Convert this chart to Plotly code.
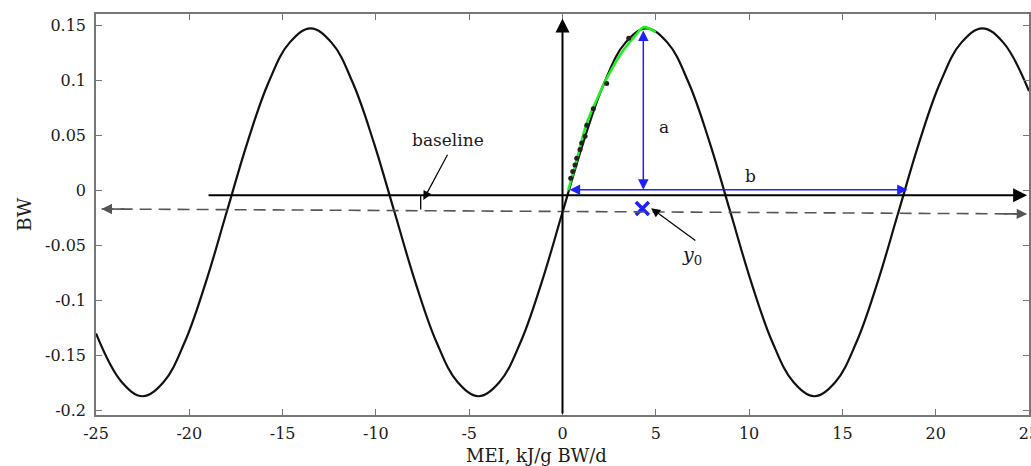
import plotly.graph_objects as go

# Model curve (MEI, BW)
curve_x = [-25, -23.625, -22.5, -21.375, -20.25, -19.125, -18, -16.875, -15.75, -14.625,
           -13.5, -12.375, -11.25, -10.125, -9, -7.875, -6.75, -5.625, -4.5, -3.375,
           -2.25, -1.125, 0, 1.125, 2.25, 3.375, 4.5, 5.625, 6.75, 7.875,
           9, 10.125, 11.25, 12.375, 13.5, 14.625, 15.75, 16.875, 18, 19.125,
           20.25, 21.375, 22.5, 23.625, 25]
curve_y = [-0.13, -0.174, -0.187, -0.174, -0.138, -0.084, -0.02, 0.044, 0.098, 0.134,
           0.147, 0.134, 0.098, 0.044, -0.02, -0.084, -0.138, -0.174, -0.187, -0.174,
           -0.138, -0.084, -0.02, 0.044, 0.098, 0.134, 0.147, 0.134, 0.098, 0.044,
           -0.02, -0.084, -0.138, -0.174, -0.187, -0.174, -0.138, -0.084, -0.02, 0.044,
           0.098, 0.134, 0.147, 0.134, 0.09]

# Fitted (green) curve
fit_x = [0.31, 0.76, 1.30, 1.83, 2.45, 3.26, 3.98, 4.35, 5.0]
fit_y = [0.000, 0.0275, 0.0608, 0.082, 0.104, 0.127, 0.142, 0.148, 0.1435]

# Observed points
obs_x = [0.44, 0.55, 0.67, 0.76, 0.94, 1.03, 1.21, 1.30, 1.65, 2.37, 3.55]
obs_y = [0.011, 0.017, 0.023, 0.029, 0.037, 0.043, 0.049, 0.059, 0.074, 0.097, 0.138]

# Key features
y0_point = (4.28, -0.0165)
amp_x = 4.33
amp_bottom, amp_top = -0.001, 0.145
per_y = 0.0005
per_left, per_right = 0.3, 18.5
axis_h_y = -0.0045
axis_h_x0, axis_h_x1 = -19.05, 24.9
base_left = (-24.7, -0.017)
base_right = (24.9, -0.0215)

x_ticks = [-25, -20, -15, -10, -5, 0, 5, 10, 15, 20, 25]
x_ticktext = ["-25", "-20", "-15", "-10", "-5", "0", "5", "10", "15", "20", "25"]
y_ticks = [0.15, 0.1, 0.05, 0, -0.05, -0.1, -0.15, -0.2]
y_ticktext = ["0.15", "0.1", "0.05", "0", "-0.05", "-0.1", "-0.15", "-0.2"]

BLUE = "#1f1fff"
GRAY = "#555555"
FONT = "DejaVu Serif"
TXT = "#1a1a1a"

fig = go.Figure()

# dashed baseline
fig.add_shape(type="line", x0=base_left[0], y0=base_left[1], x1=base_right[0], y1=base_right[1],
              line=dict(color=GRAY, width=1.6, dash="12px,7px"))
# little step at baseline label
fig.add_shape(type="line", x0=-7.6, y0=axis_h_y, x1=-7.6, y1=-0.0175,
              line=dict(color="black", width=1.3))

fig.add_trace(go.Scatter(x=curve_x, y=curve_y, mode="lines",
                         line=dict(color="#111111", width=2.2, shape="spline", smoothing=1.1),
                         hoverinfo="skip", showlegend=False))
fig.add_trace(go.Scatter(x=fit_x, y=fit_y, mode="lines", line=dict(color="#1ff01f", width=2.6, shape="spline"),
                         hoverinfo="skip", showlegend=False))
fig.add_trace(go.Scatter(x=obs_x, y=obs_y, mode="markers", marker=dict(color="#222222", size=5),
                         hoverinfo="skip", showlegend=False))
fig.add_trace(go.Scatter(x=[y0_point[0]], y=[y0_point[1]], mode="markers",
                         marker=dict(symbol="x-thin", size=13, line=dict(color=BLUE, width=3.5)),
                         hoverinfo="skip", showlegend=False))

ann = []
def arrow(x, y, ax, ay, color, width, side="end", head=2, size=1.0):
    ann.append(dict(x=x, y=y, ax=ax, ay=ay, xref="x", yref="y", axref="x", ayref="y",
                    text="", showarrow=True, arrowhead=head, startarrowhead=head, arrowside=side,
                    arrowsize=size, startarrowsize=size, arrowwidth=width, arrowcolor=color))

# axes arrows
arrow(axis_h_x1, axis_h_y, axis_h_x0, axis_h_y, "black", 2, size=1.4)
arrow(0, 0.156, 0, -0.204, "black", 2, size=1.4)
# dashed baseline arrowheads
arrow(base_left[0], base_left[1], base_left[0] + 1.3, base_left[1] - 0.00012, GRAY, 1.6, size=1.3)
arrow(base_right[0], base_right[1], base_right[0] - 1.3, base_right[1] + 0.00012, GRAY, 1.6, size=1.3)
# a and b
arrow(amp_x, amp_top, amp_x, amp_bottom, BLUE, 1.5, side="end+start", size=1.4)
arrow(per_right, per_y, per_left, per_y, BLUE, 1.5, side="end+start", size=1.4)
# baseline pointer and y0 pointer
arrow(-7.46, -0.0088, -6.12, 0.0336, "black", 1.2, size=1.5)
arrow(4.75, -0.0163, 7.2, -0.0466, "black", 1.2, size=1.5)

labels = [
    (5.45, 0.0577, "a"),
    (10.05, 0.0131, "b"),
    (-6.12, 0.0456, "baseline"),
]
for lx, ly, t in labels:
    ann.append(dict(x=lx, y=ly, xref="x", yref="y", text=t, showarrow=False,
                    font=dict(family=FONT, size=17, color=TXT)))
ann.append(dict(x=6.95, y=-0.0595, xref="x", yref="y", text="<i>y</i><sub>0</sub>", showarrow=False,
                font=dict(family=FONT, size=19, color=TXT)))
# x-axis title (sits a little left of centre in the reference)
ann.append(dict(x=-1.4, y=-0.1, xref="x", yref="paper", yanchor="middle", text="MEI, kJ/g BW/d",
                showarrow=False, font=dict(family=FONT, size=18, color=TXT)))

fig.update_layout(
    width=1031, height=466,
    margin=dict(l=96, r=2, t=14, b=51, autoexpand=False),
    paper_bgcolor="white", plot_bgcolor="white",
    font=dict(family=FONT, size=15, color=TXT),
    annotations=ann,
    showlegend=False,
)
fig.update_xaxes(range=[-25, 25], tickvals=x_ticks, ticktext=x_ticktext, ticks="inside", ticklen=6,
                 tickcolor="#777777", showline=True, linecolor="#777777", linewidth=1.5, mirror="ticks",
                 showgrid=False, zeroline=False, ticklabelstandoff=3, ticklabeloverflow="allow",
                 tickfont=dict(family=FONT, size=16, color=TXT))
fig.update_yaxes(range=[-0.204, 0.160], tickvals=y_ticks, ticktext=y_ticktext, ticks="inside", ticklen=6,
                 tickcolor="#777777", showline=True, linecolor="#777777", linewidth=1.5, mirror="ticks",
                 showgrid=False, zeroline=False, ticklabelstandoff=5,
                 tickfont=dict(family=FONT, size=16, color=TXT),
                 title=dict(text="BW", standoff=8, font=dict(family=FONT, size=19, color=TXT)))

fig.write_html("out.html", config={"displayModeBar": False},
               post_script="document.body.style.margin='0';document.body.style.overflow='hidden';")
